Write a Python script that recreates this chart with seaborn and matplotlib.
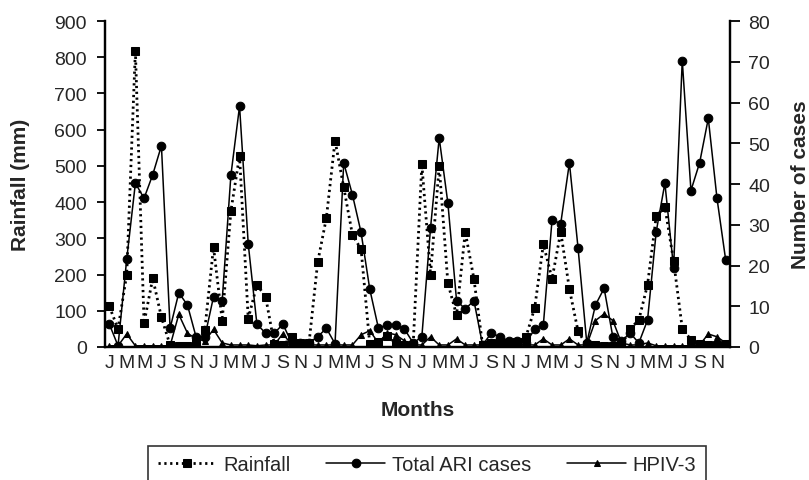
import numpy as np
import pandas as pd
import matplotlib
matplotlib.use("Agg")
import matplotlib.pyplot as plt
import seaborn as sns

# ---------------- data ----------------
tick_letters = ["J", "M", "M", "J", "S", "N"] * 6

rainfall = [
    112, 50, 200, 818, 66, 190, 82, 5, 3, 3, 10, 48,
    276, 73, 375, 528, 78, 172, 139, 8, 5, 28, 10, 10,
    234, 356, 570, 441, 310, 270, 8, 15, 30, 10, 5, 5,
    505, 200, 500, 176, 88, 318, 188, 5, 10, 15, 10, 15,
    28, 108, 284, 188, 318, 160, 43, 5, 5, 3, 3, 5,
    50, 75, 172, 361, 387, 238, 51, 20, 8, 5, 5, 8,
]

total_ari = [
    5.6, 0.3, 21.5, 40.2, 36.5, 42.3, 49.4, 4.6, 13.3, 10.3, 2.4, 2.5,
    12.3, 11.4, 42.1, 59.1, 25.3, 5.6, 3.4, 3.4, 5.6, 1.0, 1.0, 1.0,
    2.5, 4.6, 0.8, 45.2, 37.4, 28.1, 14.2, 4.6, 5.5, 5.5, 4.4, 1.0,
    2.5, 29.2, 51.3, 35.3, 11.4, 9.3, 11.4, 0.5, 3.4, 2.5, 1.5, 1.5,
    1.0, 4.4, 5.5, 31.2, 30.3, 45.2, 24.2, 1.0, 10.3, 14.4, 2.5, 1.5,
    3.4, 1.0, 6.6, 28.3, 40.2, 19.4, 70.3, 38.4, 45.2, 56.1, 36.5, 21.4,
]

hpiv3 = [
    0.3, 0.3, 3.2, 0.3, 0.3, 0.3, 0.3, 0.3, 8.0, 3.4, 2.0, 1.5,
    4.3, 1.0, 0.5, 0.5, 0.5, 0.3, 0.5, 0.5, 3.3, 0.5, 0.5, 0.5,
    0.5, 0.5, 0.5, 0.5, 0.5, 3.0, 4.0, 1.0, 3.5, 3.0, 1.5, 0.5,
    0.5, 2.5, 0.5, 0.5, 2.0, 0.5, 0.5, 0.5, 0.5, 0.5, 0.5, 0.5,
    0.5, 0.5, 2.0, 0.5, 0.5, 2.0, 0.5, 0.5, 6.5, 8.1, 6.5, 1.0,
    0.5, 0.5, 1.0, 0.3, 0.3, 0.3, 0.3, 0.3, 0.5, 3.2, 2.5, 1.0,
]

month_index = np.arange(len(rainfall))
df = pd.DataFrame({"month": month_index, "rainfall": rainfall,
                   "ari": total_ari, "hpiv": hpiv3})

# ---------------- style ----------------
sns.set_style("white")
plt.rcParams["font.family"] = ["Liberation Sans", "DejaVu Sans"]

TICK_FS = 14
TITLE_FS = 15
LEG_FS = 14.5

fig = plt.figure(figsize=(8.09, 4.81), dpi=100)
left, right_edge = 105 / 809, 730 / 809
bottom, top = (481 - 348) / 481, (481 - 22) / 481
ax = fig.add_axes([left, bottom, right_edge - left, top - bottom])
ax2 = ax.twinx()

sns.lineplot(data=df, x="month", y="rainfall", ax=ax, color="black",
             linestyle=(0, (0.8, 1.3)), linewidth=2.0, marker="s",
             markersize=6, markeredgecolor="black", label="Rainfall")
sns.lineplot(data=df, x="month", y="ari", ax=ax2, color="black",
             linewidth=1.1, marker="o", markersize=6.2,
             markeredgecolor="black", label="Total ARI cases")
sns.lineplot(data=df, x="month", y="hpiv", ax=ax2, color="black",
             linewidth=1.1, marker="^", markersize=4.5,
             markeredgecolor="black", label="HPIV-3")

for a in (ax, ax2):
    if a.get_legend() is not None:
        a.get_legend().remove()

# ---------------- axes ----------------
ax.set_xlim(-0.5, len(rainfall) - 0.5)
ax.set_ylim(0, 900)
ax2.set_ylim(0, 80)
ax.set_yticks(np.arange(0, 901, 100))
ax2.set_yticks(np.arange(0, 81, 10))

ax.set_xticks(month_index[::2])
ax.set_xticklabels(tick_letters)
ax.set_xticks(np.arange(-0.5, len(rainfall), 1.0), minor=True)
ax.tick_params(axis="x", which="major", length=0, pad=5, labelsize=TICK_FS)
ax.tick_params(axis="x", which="minor", length=5, width=1.2,
               direction="out", color="black")
ax.tick_params(axis="y", length=6, width=1.3, direction="out",
               pad=7, labelsize=TICK_FS, color="black", left=True)
ax2.tick_params(axis="y", length=7, width=1.3, direction="out",
                pad=6, labelsize=TICK_FS, color="black", right=True)

for a in (ax, ax2):
    for s in ("left", "right", "bottom"):
        a.spines[s].set_visible(True)
        a.spines[s].set_color("black")
        a.spines[s].set_linewidth(1.6)
    a.spines["top"].set_visible(False)

ax.set_xlabel("Months", fontsize=TITLE_FS, fontweight="bold")
ax.set_ylabel("Rainfall (mm)", fontsize=TITLE_FS, fontweight="bold")
ax2.set_ylabel("Number of cases", fontsize=TITLE_FS, fontweight="bold")
W = 730 - 105
H = 348 - 22
ax.xaxis.set_label_coords(0.5, (348 - 401) / H)
ax.yaxis.set_label_coords((21 - 105) / W, 0.5)
ax.yaxis.label.set_va("center")
ax2.yaxis.set_label_coords((801 - 105) / W, 0.5)
ax2.yaxis.label.set_va("center")

# ---------------- legend ----------------
h1, l1 = ax.get_legend_handles_labels()
h2, l2 = ax2.get_legend_handles_labels()
leg = fig.legend(h1 + h2, l1 + l2, loc="upper center",
                 bbox_to_anchor=(427 / 809, 1 - 447 / 481), ncol=3,
                 fontsize=LEG_FS, frameon=True, fancybox=False,
                 handlelength=2.9, handletextpad=0.35, columnspacing=1.8,
                 borderpad=0.45, borderaxespad=0.0, edgecolor="black")
leg.get_frame().set_linewidth(1.2)

fig.savefig("out.png", dpi=100)
